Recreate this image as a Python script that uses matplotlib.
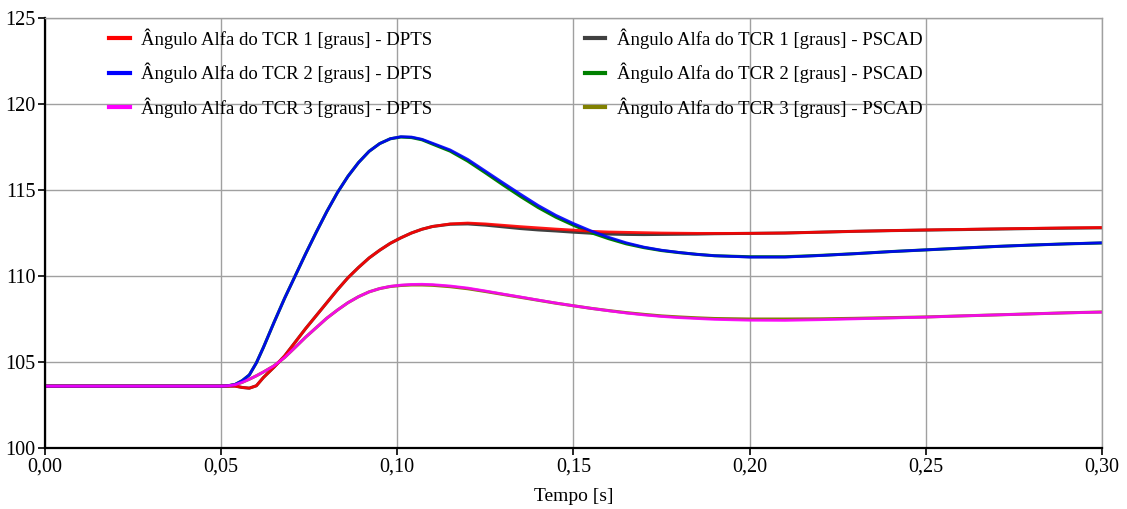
import matplotlib
matplotlib.use('Agg')
import matplotlib.pyplot as plt
from matplotlib.ticker import FuncFormatter, MultipleLocator

plt.rcParams['font.family'] = ['Liberation Serif', 'DejaVu Serif']

# tempo [s]
tempo = [0.000, 0.050, 0.052, 0.054, 0.056, 0.058, 0.060, 0.062, 0.065, 0.068,
         0.071, 0.074, 0.077, 0.080, 0.083, 0.086, 0.089, 0.092, 0.095, 0.098,
         0.101, 0.104, 0.107, 0.110, 0.115, 0.120, 0.125, 0.130, 0.135, 0.140,
         0.145, 0.150, 0.155, 0.160, 0.165, 0.170, 0.175, 0.180, 0.185, 0.190,
         0.200, 0.210, 0.220, 0.230, 0.240, 0.250, 0.260, 0.270, 0.280, 0.290,
         0.300]

# DPTS
tcr1_dpts = [103.60, 103.60, 103.60, 103.60, 103.52, 103.48, 103.62, 104.10, 104.70, 105.35,
             106.15, 106.95, 107.70, 108.45, 109.20, 109.90, 110.50, 111.05, 111.50, 111.90,
             112.22, 112.50, 112.72, 112.88, 113.03, 113.08, 113.03, 112.95, 112.87, 112.80,
             112.73, 112.67, 112.60, 112.56, 112.54, 112.52, 112.50, 112.49, 112.48, 112.48,
             112.48, 112.50, 112.55, 112.60, 112.64, 112.68, 112.71, 112.74, 112.77, 112.80,
             112.82]
tcr2_dpts = [103.60, 103.60, 103.62, 103.70, 103.92, 104.25, 104.95, 105.85, 107.30, 108.70,
             110.00, 111.30, 112.55, 113.75, 114.85, 115.80, 116.60, 117.25, 117.70, 117.98,
             118.10, 118.08, 117.95, 117.72, 117.33, 116.78, 116.10, 115.42, 114.75, 114.10,
             113.53, 113.05, 112.62, 112.25, 111.93, 111.68, 111.50, 111.37, 111.26, 111.18,
             111.10, 111.10, 111.19, 111.30, 111.42, 111.52, 111.62, 111.72, 111.80, 111.87,
             111.93]
tcr3_dpts = [103.60, 103.60, 103.62, 103.68, 103.82, 104.00, 104.20, 104.42, 104.78, 105.26,
             105.85, 106.45, 107.00, 107.55, 108.02, 108.45, 108.80, 109.08, 109.27, 109.40,
             109.47, 109.51, 109.52, 109.50, 109.42, 109.30, 109.13, 108.95, 108.78, 108.60,
             108.43, 108.27, 108.12, 107.98, 107.85, 107.74, 107.65, 107.58, 107.53, 107.48,
             107.43, 107.42, 107.46, 107.51, 107.56, 107.61, 107.68, 107.74, 107.80, 107.86,
             107.90]

# PSCAD
tcr1_pscad = [103.60, 103.60, 103.60, 103.60, 103.52, 103.48, 103.62, 104.10, 104.70, 105.35,
              106.15, 106.95, 107.70, 108.45, 109.20, 109.90, 110.50, 111.05, 111.50, 111.90,
              112.22, 112.50, 112.72, 112.88, 113.01, 113.03, 112.96, 112.86, 112.76, 112.68,
              112.62, 112.55, 112.49, 112.44, 112.42, 112.41, 112.42, 112.43, 112.44, 112.46,
              112.48, 112.50, 112.55, 112.60, 112.64, 112.67, 112.70, 112.73, 112.76, 112.78,
              112.80]
tcr2_pscad = [103.60, 103.60, 103.62, 103.70, 103.92, 104.25, 104.95, 105.85, 107.30, 108.70,
              110.00, 111.30, 112.55, 113.75, 114.85, 115.80, 116.60, 117.25, 117.70, 117.98,
              118.08, 118.05, 117.92, 117.67, 117.26, 116.68, 116.00, 115.30, 114.62, 113.98,
              113.42, 112.95, 112.52, 112.17, 111.87, 111.65, 111.48, 111.36, 111.26, 111.18,
              111.12, 111.12, 111.20, 111.30, 111.42, 111.52, 111.62, 111.72, 111.80, 111.87,
              111.92]
tcr3_pscad = [103.60, 103.60, 103.62, 103.68, 103.82, 104.00, 104.20, 104.42, 104.78, 105.26,
              105.85, 106.45, 107.00, 107.55, 108.02, 108.45, 108.80, 109.08, 109.27, 109.39,
              109.45, 109.48, 109.48, 109.46, 109.38, 109.26, 109.10, 108.93, 108.76, 108.59,
              108.42, 108.27, 108.12, 107.99, 107.87, 107.77, 107.68, 107.62, 107.57, 107.53,
              107.50, 107.50, 107.51, 107.54, 107.58, 107.62, 107.68, 107.74, 107.80, 107.86,
              107.91]

fig = plt.figure(figsize=(11.27, 5.09), dpi=100)
ax = fig.add_axes([0.0399, 0.1198, 0.9379, 0.8448])

# PSCAD primeiro, DPTS por cima
l4, = ax.plot(tempo, tcr1_pscad, color='#404040', lw=2.2)
l5, = ax.plot(tempo, tcr2_pscad, color='#008000', lw=2.2)
l6, = ax.plot(tempo, tcr3_pscad, color='#808000', lw=2.2)
l1, = ax.plot(tempo, tcr1_dpts, color='#ff0000', lw=2.0, alpha=0.9)
l2, = ax.plot(tempo, tcr2_dpts, color='#0000ff', lw=2.0, alpha=0.9)
l3, = ax.plot(tempo, tcr3_dpts, color='#ff00ff', lw=2.0, alpha=0.9)

ax.set_xlim(0, 0.30)
ax.set_ylim(100, 125)
ax.xaxis.set_major_locator(MultipleLocator(0.05))
ax.yaxis.set_major_locator(MultipleLocator(5))
ax.xaxis.set_major_formatter(FuncFormatter(lambda v, p: f'{v:.2f}'.replace('.', ',')))
ax.yaxis.set_major_formatter(FuncFormatter(lambda v, p: f'{v:.0f}'))
ax.grid(True, color='#a0a0a0', lw=1.0)
ax.set_axisbelow(True)

for s in ['top', 'right']:
    ax.spines[s].set_color('#a0a0a0')
    ax.spines[s].set_linewidth(1.0)
for s in ['left', 'bottom']:
    ax.spines[s].set_color('black')
    ax.spines[s].set_linewidth(1.6)

ax.tick_params(direction='out', length=5, width=1.2, labelsize=14.5, pad=2)
ax.set_xlabel('Tempo [s]', fontsize=14, labelpad=8)

labels = ['Ângulo Alfa do TCR 1 [graus] - DPTS', 'Ângulo Alfa do TCR 2 [graus] - DPTS',
          'Ângulo Alfa do TCR 3 [graus] - DPTS', 'Ângulo Alfa do TCR 1 [graus] - PSCAD',
          'Ângulo Alfa do TCR 2 [graus] - PSCAD', 'Ângulo Alfa do TCR 3 [graus] - PSCAD']
leg = ax.legend([l1, l2, l3, l4, l5, l6], labels, ncol=2, frameon=False,
                loc='upper left', bbox_to_anchor=(0.0445, 1.016), fontsize=13.5,
                handlelength=1.1, handletextpad=0.6, columnspacing=8.15,
                labelspacing=0.76)
for h in leg.get_lines():
    h.set_linewidth(3)
    h.set_alpha(1)

fig.savefig('out.png', dpi=100)
